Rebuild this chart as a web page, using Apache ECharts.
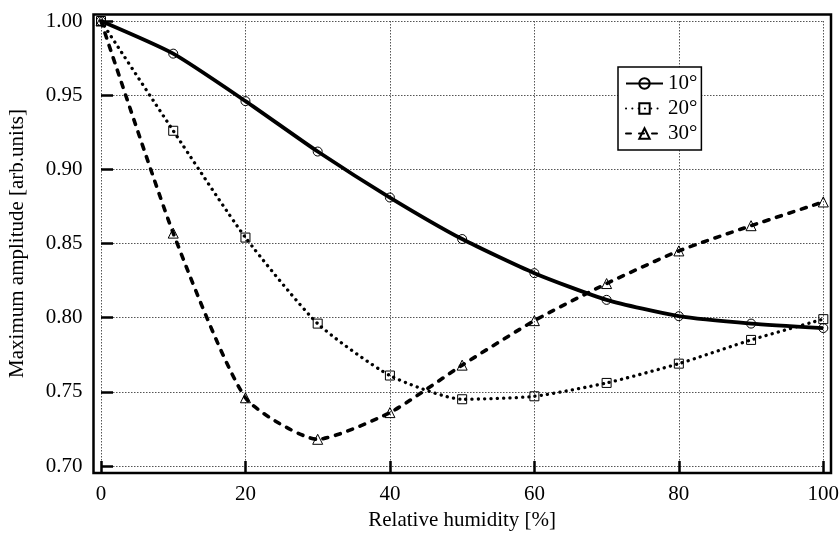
<!DOCTYPE html>
<html>
<head>
<meta charset="utf-8">
<script src="https://cdn.jsdelivr.net/npm/echarts@6/dist/echarts.min.js"></script>
<style>
html,body{margin:0;padding:0;background:#fff;}
#chart{width:839px;height:533px;}
</style>
</head>
<body>
<div id="chart"></div>
<script>
// ---- data ----
const humidity = [0, 10, 20, 30, 40, 50, 60, 70, 80, 90, 100];
const seriesNames = ['10°', '20°', '30°'];
const amp10 = [1.000, 0.978, 0.946, 0.912, 0.881, 0.853, 0.830, 0.812, 0.801, 0.796, 0.793];
const amp20 = [1.000, 0.926, 0.854, 0.796, 0.761, 0.745, 0.747, 0.756, 0.769, 0.785, 0.799];
const amp30 = [1.000, 0.857, 0.746, 0.718, 0.736, 0.768, 0.798, 0.823, 0.845, 0.862, 0.878];
const xTitle = 'Relative humidity [%]';
const yTitle = 'Maximum amplitude [arb.units]';

const font = '"Liberation Serif", "DejaVu Serif", serif';
const pair = (ys) => humidity.map((x, i) => [x, ys[i]]);

const chart = echarts.init(document.getElementById('chart'), null, {renderer: 'canvas'});

const markerStyle = {color: 'rgba(255,255,255,0)', borderColor: '#000', borderWidth: 1};

const option = {
  backgroundColor: '#fff',
  animation: false,
  textStyle: {fontFamily: font, color: '#000'},
  grid: {left: 101, right: 15.7, top: 21, bottom: 67, containLabel: false, outerBoundsMode: 'none'},
  xAxis: {
    type: 'value', min: 0, max: 100, interval: 20, offset: 7,
    axisLine: {show: false},
    axisTick: {show: true, inside: true, length: 12, lineStyle: {color: '#000', width: 2.5}},
    axisLabel: {fontFamily: font, fontSize: 21, color: '#000', margin: 11},
    splitLine: {show: true, lineStyle: {color: '#555', width: 1, type: [1.5, 1.5]}},
    name: xTitle, nameLocation: 'middle', nameGap: 36,
    nameTextStyle: {fontFamily: font, fontSize: 21, color: '#000'}
  },
  yAxis: {
    type: 'value', min: 0.70, max: 1.00, interval: 0.05, offset: 7.5,
    axisLine: {show: false},
    axisTick: {show: true, inside: true, length: 12, lineStyle: {color: '#000', width: 2.5}},
    axisLabel: {fontFamily: font, fontSize: 21, color: '#000', margin: 11,
      formatter: (v) => v.toFixed(2)},
    splitLine: {show: true, lineStyle: {color: '#555', width: 1, type: [1.5, 1.5]}},
    name: yTitle, nameLocation: 'middle', nameGap: 66,
    nameTextStyle: {fontFamily: font, fontSize: 21, color: '#000'}
  },
  legend: {
    left: 618, top: 67, orient: 'vertical',
    backgroundColor: '#fff', borderColor: '#000', borderWidth: 1.5,
    padding: [6, 4, 6, 7], itemGap: 4, itemWidth: 37, itemHeight: 13,
    textStyle: {fontFamily: font, fontSize: 21, color: '#000', lineHeight: 20},
    data: seriesNames
  },
  graphic: [{
    type: 'rect', z: 100, silent: true,
    shape: {x: 93.5, y: 14.5, width: 737.5, height: 458.5},
    style: {fill: 'none', stroke: '#000', lineWidth: 2.5}
  }],
  series: [
    {
      name: seriesNames[0], type: 'line', data: pair(amp10), smooth: 0.2,
      symbol: 'circle', symbolSize: 9, showAllSymbol: true,
      lineStyle: {color: '#000', width: 3.8, type: 'solid'},
      itemStyle: markerStyle, z: 5
    },
    {
      name: seriesNames[1], type: 'line', data: pair(amp20), smooth: 0.2,
      symbol: 'rect', symbolSize: 9, showAllSymbol: true,
      lineStyle: {color: '#000', width: 3.3, type: [0.1, 6.2], cap: 'round'},
      itemStyle: markerStyle, z: 4
    },
    {
      name: seriesNames[2], type: 'line', data: pair(amp30), smooth: 0.2,
      symbol: 'triangle', symbolSize: 10, showAllSymbol: true,
      lineStyle: {color: '#000', width: 3.6, type: [5, 8], cap: 'round'},
      itemStyle: markerStyle, z: 3
    }
  ]
};
chart.setOption(option);
</script>
</body>
</html>
